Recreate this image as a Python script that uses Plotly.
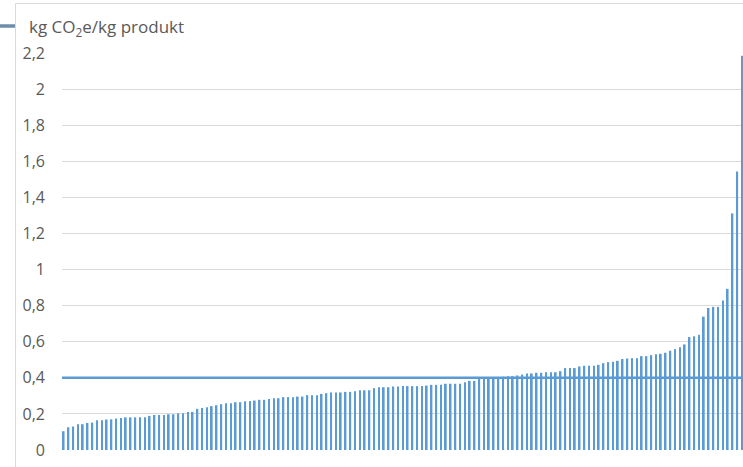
import plotly.graph_objects as go

# Sorted emission factors per product (kg CO2e / kg product)
values = [
    0.104, 0.126, 0.130, 0.143, 0.143, 0.150, 0.152, 0.165, 0.165, 0.169,
    0.170, 0.174, 0.178, 0.181, 0.181, 0.181, 0.181, 0.181, 0.189, 0.194,
    0.194, 0.194, 0.198, 0.198, 0.203, 0.204, 0.211, 0.211, 0.228, 0.233,
    0.237, 0.243, 0.248, 0.254, 0.259, 0.259, 0.265, 0.265, 0.270, 0.272,
    0.274, 0.278, 0.278, 0.283, 0.287, 0.287, 0.293, 0.293, 0.293, 0.296,
    0.296, 0.304, 0.304, 0.304, 0.311, 0.315, 0.319, 0.319, 0.319, 0.322,
    0.322, 0.326, 0.331, 0.331, 0.331, 0.343, 0.348, 0.348, 0.348, 0.352,
    0.352, 0.354, 0.354, 0.354, 0.354, 0.354, 0.357, 0.361, 0.361, 0.361,
    0.367, 0.367, 0.367, 0.367, 0.376, 0.383, 0.383, 0.396, 0.396, 0.396,
    0.398, 0.402, 0.406, 0.409, 0.409, 0.413, 0.418, 0.424, 0.424, 0.428,
    0.428, 0.431, 0.431, 0.431, 0.437, 0.454, 0.454, 0.454, 0.463, 0.467,
    0.467, 0.467, 0.472, 0.481, 0.487, 0.489, 0.494, 0.504, 0.507, 0.509,
    0.509, 0.520, 0.520, 0.526, 0.530, 0.533, 0.539, 0.550, 0.559, 0.569,
    0.585, 0.626, 0.630, 0.639, 0.739, 0.787, 0.793, 0.793, 0.828, 0.893,
    1.311, 1.544, 2.185,
]
categories = list(range(len(values)))
threshold = 0.4
tick_vals = [0, 0.2, 0.4, 0.6, 0.8, 1.0, 1.2, 1.4, 1.6, 1.8, 2.0, 2.2]
tick_text = ["0", "0,2", "0,4", "0,6", "0,8", "1", "1,2", "1,4", "1,6", "1,8", "2", "2,2"]
unit_label = "kg CO<sub>2</sub>e/kg produkt"

BLUE = "#5B9BD5"
GRID = "#D9D9D9"
TXT = "#595959"

W, H = 743, 467
ML, MT, MB, MR = 62, 53, 17, 0
pw = W - ML - MR
ph = H - MT - MB

def px_x(x):
    return (x - ML) / pw

def px_y(y):
    return (H - MB - y) / ph

fig = go.Figure()
fig.add_trace(go.Bar(
    x=categories, y=values,
    marker=dict(color=BLUE, line=dict(width=0)),
    width=0.36,
    hoverinfo="y",
))

fig.add_shape(type="line", xref="paper", yref="y",
              x0=0, x1=1, y0=threshold, y1=threshold,
              line=dict(color=BLUE, width=2.5), layer="above")

# chart frame
fig.add_shape(type="rect", xref="paper", yref="paper",
              x0=px_x(15.5), x1=px_x(800), y0=px_y(520), y1=px_y(3.5),
              line=dict(color=GRID, width=1), fillcolor="rgba(0,0,0,0)", layer="below")
# small decoration at top-left
fig.add_shape(type="line", xref="paper", yref="paper",
              x0=px_x(-2), x1=px_x(15), y0=px_y(26), y1=px_y(26),
              line=dict(color="#6F8DAA", width=3.5))

fig.add_annotation(text=unit_label, xref="paper", yref="paper",
                   x=px_x(27), y=px_y(27.5), xanchor="left", yanchor="middle",
                   showarrow=False, font=dict(family="Open Sans", size=17, color=TXT))

fig.update_layout(
    width=W, height=H,
    margin=dict(l=ML, r=MR, t=MT, b=MB, pad=0),
    paper_bgcolor="white", plot_bgcolor="white",
    showlegend=False,
    bargap=0.6,
    font=dict(family="Open Sans", color=TXT),
)
fig.update_xaxes(range=[-0.35, len(values) - 0.8], showticklabels=False,
                 showgrid=False, zeroline=False, showline=False, ticks="")
fig.update_yaxes(range=[0, 2.2], tickvals=tick_vals, ticktext=tick_text,
                 showgrid=True, gridcolor=GRID, gridwidth=1.4,
                 zeroline=False, showline=False, ticks="",
                 ticklabelstandoff=16,
                 tickfont=dict(family="Open Sans", size=16, color=TXT))

fig.write_html("out.html", config={"displayModeBar": False},
               post_script="document.body.style.margin='0';document.body.style.overflow='hidden';")
